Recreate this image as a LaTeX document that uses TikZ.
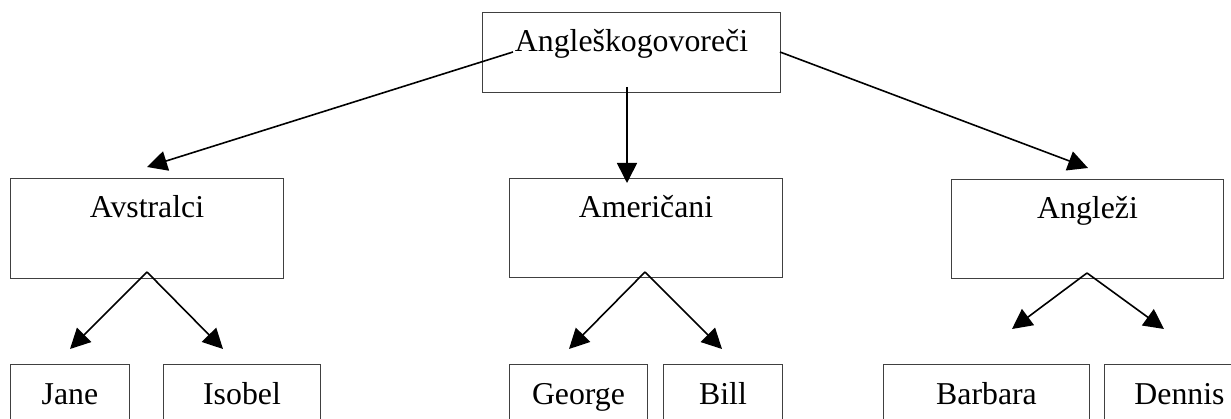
\documentclass[tikz,border=0pt]{standalone}
\usepackage{fontspec}
\setmainfont{Liberation Serif}
\usetikzlibrary{arrows.meta}
\begin{document}
\begin{tikzpicture}[x=1pt,y=-1pt,
  box/.style={draw=black!75, line width=1pt, fill=white, inner sep=0pt, anchor=north west},
  lbl/.style={anchor=base, inner sep=0pt, font=\fontsize{31.8}{38}\selectfont},
  arr/.style={line width=1.6pt, -{Triangle[length=20pt,width=20pt]}}]
\useasboundingbox (0,0) rectangle (1231,419);
\clip (0,0) rectangle (1231,419);
% boxes
\node[box, minimum width=298pt, minimum height=80pt] (bTop) at (482,12) {};
\node[box, minimum width=273pt, minimum height=100pt] (bAvs) at (10,178) {};
\node[box, minimum width=273pt, minimum height=99pt] (bAm) at (509,178) {};
\node[box, minimum width=272pt, minimum height=99pt] (bAng) at (951,179) {};
\node[box, minimum width=119pt, minimum height=80pt] (bJane) at (10,364) {};
\node[box, minimum width=157pt, minimum height=80pt] (bIsobel) at (163,364) {};
\node[box, minimum width=138pt, minimum height=80pt] (bGeorge) at (509,364) {};
\node[box, minimum width=119pt, minimum height=80pt] (bBill) at (663,364) {};
\node[box, minimum width=206pt, minimum height=80pt] (bBarbara) at (883,364) {};
\node[box, minimum width=150pt, minimum height=80pt] (bDennis) at (1104,364) {};
% labels
\node[lbl] (tTop) at ([yshift=-40pt]bTop.north) {Angleškogovoreči};
\node[lbl] (tAvs) at ([yshift=-40pt]bAvs.north) {Avstralci};
\node[lbl] (tAm) at ([yshift=-40pt]bAm.north) {Američani};
\node[lbl] (tAng) at ([yshift=-40pt]bAng.north) {Angleži};
\node[lbl] (tJane) at ([yshift=-40pt]bJane.north) {Jane};
\node[lbl] (tIsobel) at ([yshift=-40pt]bIsobel.north) {Isobel};
\node[lbl] (tGeorge) at ([yshift=-40pt]bGeorge.north) {George};
\node[lbl] (tBill) at ([yshift=-40pt]bBill.north) {Bill};
\node[lbl] (tBarbara) at ([yshift=-40pt]bBarbara.north) {Barbara};
\node[lbl] (tDennis) at ([yshift=-40pt]bDennis.north) {Dennis};
% connector ends
\coordinate (sL) at (513,52);
\coordinate (eL) at (147,167);
\coordinate (sM) at (627,87);
\coordinate (eM) at (627,183);
\coordinate (sR) at (780,52);
\coordinate (eR) at (1088,168);
\coordinate (aAvs) at (147,272);
\coordinate (eJane) at (70,349);
\coordinate (eIsobel) at (223,349);
\coordinate (aAm) at (645,272);
\coordinate (eGeorge) at (569,349);
\coordinate (eBill) at (722,349);
\coordinate (aAng) at (1087,273);
\coordinate (eBarbara) at (1012,329);
\coordinate (eDennis) at (1164,329);
% connectors
\draw[arr] (sL) -- (eL);
\draw[arr] (sM) -- (eM);
\draw[arr] (sR) -- (eR);
\draw[arr] (aAvs) -- (eJane);
\draw[arr] (aAvs) -- (eIsobel);
\draw[arr] (aAm) -- (eGeorge);
\draw[arr] (aAm) -- (eBill);
\draw[arr] (aAng) -- (eBarbara);
\draw[arr] (aAng) -- (eDennis);
\end{tikzpicture}
\end{document}
